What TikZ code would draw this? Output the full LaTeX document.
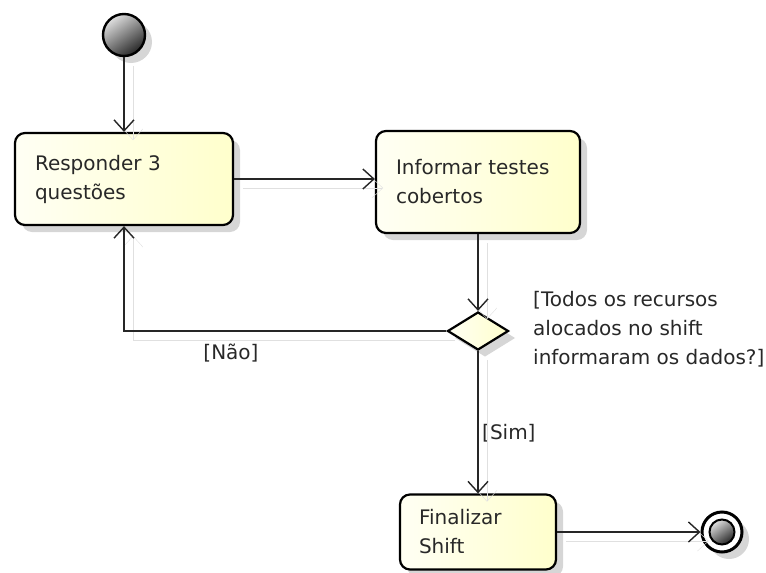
\documentclass[tikz,border=0pt]{standalone}
\usepackage{fontspec}
\setmainfont{DejaVu Sans}
\usetikzlibrary{shapes.geometric}
\usetikzlibrary{arrows.meta}
\usetikzlibrary{shadows}
\definecolor{actlight}{RGB}{255,255,244}
\definecolor{actdark}{RGB}{255,255,204}
\definecolor{shadowgray}{RGB}{214,214,214}
\definecolor{txtgray}{RGB}{40,40,40}
\tikzset{
  boxshadow/.style={drop shadow={shadow xshift=7pt, shadow yshift=-7pt, fill=shadowgray, opacity=1}},
  act/.style={draw=black, line width=2.2pt, rounded corners=10pt, left color=actlight, right color=actdark,
    align=left, inner xsep=20pt, font=\fontsize{20}{29}\selectfont, text=txtgray, boxshadow},
  decision/.style={diamond, draw=black, line width=2.2pt, left color=actlight, right color=actdark,
    minimum width=61pt, minimum height=38pt, inner sep=0pt, boxshadow},
  greyball/.style={top color=black!12, bottom color=black!85, shading angle=35},
  initial/.style={circle, draw=black, line width=2.4pt, greyball, minimum size=42pt, inner sep=0pt, boxshadow},
  finalring/.style={circle, draw=black, line width=3pt, fill=white, minimum size=40pt, inner sep=0pt, boxshadow},
  finaldot/.style={circle, draw=black, line width=2pt, greyball, minimum size=25pt, inner sep=0pt},
  guard/.style={font=\fontsize{20}{29}\selectfont, text=txtgray, inner sep=0pt, align=left},
  flow/.style={draw=black!85, line width=1.4pt, -{Straight Barb[length=11pt,width=20pt]},
    preaction={draw=black!12, transform canvas={shift={(9pt,-9pt)}}}}
}
\begin{document}
\begin{tikzpicture}[x=1pt,y=-1pt]
  \useasboundingbox (0,0) rectangle (766,573);
  % nodes
  \node[initial] (start) at (124,35) {};
  \node[act, minimum width=218pt, minimum height=92pt, text width=178pt] (resp) at (124,179) {Responder 3\\questões};
  \node[act, minimum width=204pt, minimum height=102pt, text width=164pt] (inf) at (478,182) {Informar testes\\cobertos};
  \node[decision] (dec) at (478,331) {};
  \node[act, minimum width=156pt, minimum height=75pt, text width=118pt, inner xsep=19pt] (fin) at (478,532) {Finalizar\\Shift};
  \node[finalring] (final) at (722,532) {};
  \node[finaldot] (finaldot) at (final) {};
  % guards
  \node[guard, anchor=west] (cond) at (533,329) {[Todos os recursos\\alocados no shift\\informaram os dados?]};
  \node[guard] (nao) at (231,353) {[Não]};
  \node[guard, anchor=west] (sim) at (482,433) {[Sim]};
  % flows
  \draw[flow] (start) -- (start |- resp.north);
  \draw[flow] (resp.east) -- (resp.east -| inf.west);
  \draw[flow] (inf) -- (dec);
  \draw[flow] (dec.west) -| (resp.south);
  \draw[flow] (dec) -- (fin);
  \draw[flow] (fin) -- (final);
\end{tikzpicture}
\end{document}
